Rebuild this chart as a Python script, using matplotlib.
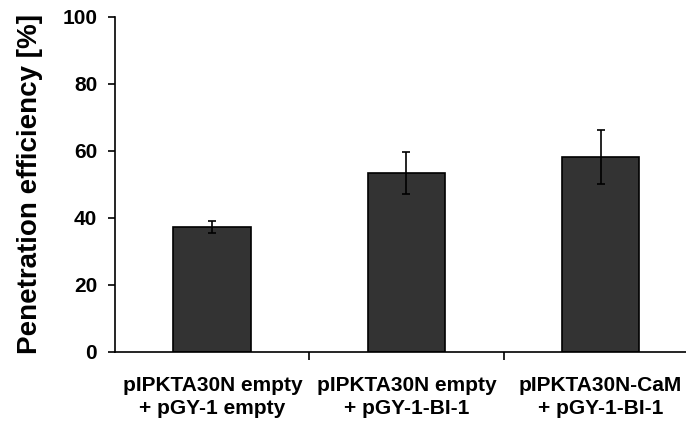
import numpy as np
import matplotlib
matplotlib.use("Agg")
import matplotlib.pyplot as plt

labels = ["pIPKTA30N empty\n+ pGY-1 empty",
          "pIPKTA30N empty\n+ pGY-1-BI-1",
          "pIPKTA30N-CaM\n+ pGY-1-BI-1"]
values = [37.4, 53.4, 58.1]
errors = [1.8, 6.4, 8.0]

plt.rcParams['font.family'] = ['Liberation Sans', 'DejaVu Sans']
plt.rcParams['font.weight'] = 'bold'

fig = plt.figure(figsize=(6.86, 4.23), dpi=100)
ax = fig.add_axes([0.168, 0.168, 0.832, 0.792])

x = np.arange(len(values))
ax.bar(x, values, width=0.4, color='#333333', edgecolor='black', linewidth=1.2,
       yerr=errors, capsize=3, error_kw=dict(ecolor='black', elinewidth=1.2, capthick=1.2))

ax.set_xlim(-0.5, 2.44)
ax.set_ylim(0, 100)
ax.set_yticks(np.arange(0, 101, 20))
ax.set_xticks(x)
ax.set_xticklabels(labels, fontsize=15, fontweight='bold', linespacing=1.3)
ax.set_xticks([0.5, 1.5], minor=True)
ax.tick_params(axis='x', which='major', length=0, pad=17)
ax.tick_params(axis='x', which='minor', length=6, width=1.2, direction='out')
ax.tick_params(axis='y', length=5, width=1.2, direction='out', labelsize=15, pad=8)
for lab in ax.get_yticklabels():
    lab.set_fontweight('bold')

ax.spines['top'].set_visible(False)
ax.spines['right'].set_visible(False)
ax.spines['left'].set_linewidth(1.2)
ax.spines['bottom'].set_linewidth(1.2)

ax.set_ylabel("Penetration efficiency [%]", fontsize=20, fontweight='bold', labelpad=14)

fig.savefig("out.png", dpi=100)
